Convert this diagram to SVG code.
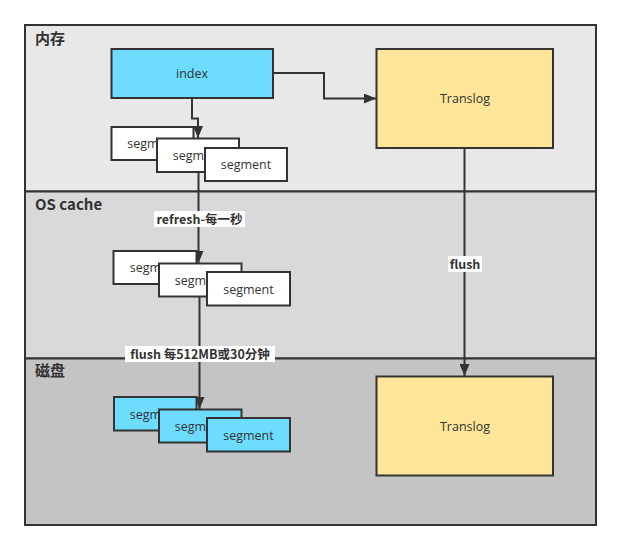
<svg xmlns="http://www.w3.org/2000/svg" width="621" height="551" viewBox="0 0 621 551">
<defs>
<style>
.sec{stroke:#333;stroke-width:2}
.title{font-family:"Noto Sans CJK SC","Noto Sans",sans-serif;font-size:15px;font-weight:bold;fill:#333}
.node{stroke:#333;stroke-width:2}
.seg{fill:#fff}
.segb{fill:#6ddcff}
.txt{font-family:"Open Sans","Noto Sans CJK SC",sans-serif;font-size:12.5px;fill:#333;text-anchor:middle}
.edge{fill:none;stroke:#333;stroke-width:2}
.lbl{font-family:"Noto Sans CJK SC","Noto Sans",sans-serif;font-size:12.5px;font-weight:bold;fill:#333;text-anchor:middle}
</style>
<marker id="arr" viewBox="0 0 12 10" refX="12" refY="5" markerWidth="12" markerHeight="10" markerUnits="userSpaceOnUse" orient="auto">
<path d="M0,0 L12,5 L0,10 Z" fill="#333"/>
</marker>
</defs>
<rect width="621" height="551" fill="#fff"/>
<g id="sec-mem">
<rect x="25" y="25" width="571" height="166.5" fill="#e8e8e8" class="sec"/>
<text x="35" y="44" class="title">内存</text>
</g>
<g id="sec-os">
<rect x="25" y="191.5" width="571" height="167" fill="#d9d9d9" class="sec"/>
<text x="35" y="210" class="title">OS cache</text>
</g>
<g id="sec-disk">
<rect x="25" y="358.5" width="571" height="166.5" fill="#c4c4c4" class="sec"/>
<text x="35" y="376" class="title">磁盘</text>
</g>
<g id="index">
<rect x="111.5" y="49" width="161.5" height="49" fill="#6ddcff" class="node"/>
<text x="192" y="78" class="txt">index</text>
</g>
<g id="translog-mem">
<rect x="376.5" y="49" width="176.5" height="99" fill="#ffe599" class="node"/>
<text x="465" y="103" class="txt">Translog</text>
</g>
<g id="translog-disk">
<rect x="376.5" y="376.5" width="176.5" height="99" fill="#ffe599" class="node"/>
<text x="465" y="431" class="txt">Translog</text>
</g>
<g id="connectors">
<path d="M192,98 V118.5 H198 V138" class="edge" marker-end="url(#arr)"/>
<path d="M273,73 H324 V98.5 H376" class="edge" marker-end="url(#arr)"/>
<path d="M198.5,172 V263" class="edge" marker-end="url(#arr)"/>
<path d="M199.5,296 V409" class="edge" marker-end="url(#arr)"/>
<path d="M464.5,148 V376" class="edge" marker-end="url(#arr)"/>
<rect x="154" y="211" width="91" height="16" fill="#fff"/>
<text x="199.5" y="223.5" class="lbl">refresh-每一秒</text>
<rect x="125" y="346" width="150" height="16" fill="#fff"/>
<text x="200" y="358.5" class="lbl">flush 每512MB或30分钟</text>
<rect x="448" y="256" width="34" height="16" fill="#fff"/>
<text x="465" y="268.5" class="lbl">flush</text>
</g>
<g id="seg-mem-1"><rect x="111.5" y="127" width="82" height="33" class="node seg"/><text x="152.5" y="148" class="txt">segment</text></g>
<g id="seg-mem-2"><rect x="157" y="138.5" width="82" height="33.5" class="node seg"/><text x="198" y="159.5" class="txt">segment</text></g>
<g id="seg-mem-3"><rect x="205" y="148" width="82" height="33" class="node seg"/><text x="246" y="169" class="txt">segment</text></g>
<g id="seg-os-1"><rect x="113.5" y="251" width="83" height="33" class="node seg"/><text x="155" y="272" class="txt">segment</text></g>
<g id="seg-os-2"><rect x="159" y="263.5" width="82.5" height="33" class="node seg"/><text x="200" y="284.5" class="txt">segment</text></g>
<g id="seg-os-3"><rect x="207" y="272" width="83" height="33.5" class="node seg"/><text x="248.5" y="293.5" class="txt">segment</text></g>
<g id="seg-disk-1"><rect x="114" y="397" width="82.5" height="33.5" class="node segb"/><text x="155" y="418.5" class="txt">segment</text></g>
<g id="seg-disk-2"><rect x="159" y="409.5" width="82.5" height="33" class="node segb"/><text x="200" y="430.5" class="txt">segment</text></g>
<g id="seg-disk-3"><rect x="207" y="418" width="83" height="33.5" class="node segb"/><text x="248.5" y="439.5" class="txt">segment</text></g>
</svg>
